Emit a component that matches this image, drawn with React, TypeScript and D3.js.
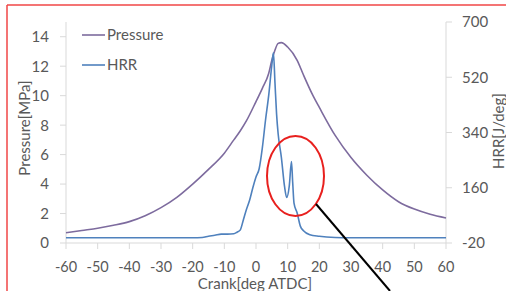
import React from "react";
import * as d3 from "d3";

const W = 506;
const H = 291;
const Margin = { top: 22, right: 60, bottom: 48, left: 66 };
const FONT = "Lato, 'Open Sans', sans-serif";
const TEXT = "#595959";
const AXIS = "#d9d9d9";

// crank angle [deg ATDC] and cylinder pressure [MPa]
const pressureCrank = [-60, -55, -50, -45, -40, -35, -30, -25, -20, -15, -10, -7, -5, -3, 0, 2, 4, 5, 6, 7, 8, 10, 13, 15, 18, 20, 25, 30, 35, 40, 45, 50, 55, 60];
const pressureValues = [0.7, 0.85, 1.0, 1.2, 1.45, 1.85, 2.4, 3.1, 4.0, 5.0, 6.1, 7.0, 7.6, 8.3, 9.6, 10.5, 11.5, 12.4, 13.1, 13.55, 13.6, 13.3, 12.4, 11.4, 10.0, 9.2, 7.3, 5.8, 4.6, 3.6, 2.8, 2.3, 1.95, 1.7];

// heat release rate [J/deg]
const hrrCrank = [-60, -20, -17, -15, -13, -11, -9, -7, -6, -5, -4, -3, -2, -1, 0, 1, 2, 3, 4, 5, 5.5, 6, 6.5, 7, 8, 9, 9.7, 10.5, 11.2, 11.6, 12, 13, 14, 15, 17, 20, 25, 30, 60];
const hrrValues = [-3, -3, -2, 2, 5, 9, 9, 10, 15, 22, 55, 90, 120, 160, 195, 222, 290, 380, 460, 560, 600, 500, 400, 335, 260, 165, 128, 165, 245, 175, 110, 78, 35, 20, 7, 2, -2, -3, -3];

const xTicks = [-60, -50, -40, -30, -20, -10, 0, 10, 20, 30, 40, 50, 60];
const leftTicks = [0, 2, 4, 6, 8, 10, 12, 14];
const rightTicks = [-20, 160, 340, 520, 700];

const App = () => {
  const x = d3.scaleLinear().domain([-60, 60]).range([Margin.left, W - Margin.right]);
  const yL = d3.scaleLinear().domain([0, 15]).range([H - Margin.bottom, Margin.top]);
  const yR = d3.scaleLinear().domain([-20, 700]).range([H - Margin.bottom, Margin.top]);

  const pLine = d3
    .line<number>()
    .x((d, i) => x(pressureCrank[i]))
    .y((d) => yL(d))
    .curve(d3.curveMonotoneX);
  const hLine = d3
    .line<number>()
    .x((d, i) => x(hrrCrank[i]))
    .y((d) => yR(d))
    .curve(d3.curveMonotoneX);

  const bottom = H - Margin.bottom;
  const right = W - Margin.right;

  return (
    <svg width={W} height={H} style={{ position: "absolute", left: 0, top: 0, background: "#fff" }} fontFamily={FONT}>
      <rect x={0} y={0} width={W} height={H} fill="#fff" />
      {/* axes */}
      <line x1={Margin.left} y1={Margin.top} x2={Margin.left} y2={bottom} stroke={AXIS} />
      <line x1={right} y1={Margin.top} x2={right} y2={bottom} stroke={AXIS} />
      <line x1={Margin.left} y1={bottom} x2={right} y2={bottom} stroke={AXIS} />
      {xTicks.map((t) => (
        <g key={t} transform={`translate(${x(t)}, 0)`}>
          <line y1={bottom} y2={bottom + 6} stroke={AXIS} />
          <text y={bottom + 29} textAnchor="middle" fontSize={14.5} fill={TEXT}>
            {t}
          </text>
        </g>
      ))}
      {leftTicks.map((t) => (
        <g key={t} transform={`translate(0, ${yL(t)})`}>
          <line x1={Margin.left - 6} x2={Margin.left} stroke={AXIS} />
          <text x={49} dy="0.36em" textAnchor="end" fontSize={15} fill={TEXT}>
            {t}
          </text>
        </g>
      ))}
      {rightTicks.map((t) => (
        <g key={t} transform={`translate(0, ${yR(t)})`}>
          <line x1={right} x2={right + 6} stroke={AXIS} />
          <text x={462} dy="0.36em" textAnchor="start" fontSize={15} fill={TEXT}>
            {t}
          </text>
        </g>
      ))}
      <text transform="translate(30, 128) rotate(-90)" textAnchor="middle" fontSize={15} fill={TEXT}>
        Pressure[MPa]
      </text>
      <text transform="translate(504, 131) rotate(-90)" textAnchor="middle" fontSize={15} fill={TEXT}>
        HRR[J/deg]
      </text>
      <text x={255} y={289} textAnchor="middle" fontSize={15} fill={TEXT}>
        Crank[deg ATDC]
      </text>

      {/* series */}
      <path d={pLine(pressureValues) || ""} fill="none" stroke="#7d6b9e" strokeWidth={1.6} />
      <path d={hLine(hrrValues) || ""} fill="none" stroke="#4f81bd" strokeWidth={1.6} />

      {/* legend */}
      <line x1={82} x2={105} y1={35} y2={35} stroke="#7d6b9e" strokeWidth={1.6} />
      <text x={107} y={35} dy="0.36em" fontSize={15} fill={TEXT}>
        Pressure
      </text>
      <line x1={82} x2={105} y1={65} y2={65} stroke="#4f81bd" strokeWidth={1.6} />
      <text x={107} y={65} dy="0.36em" fontSize={15} fill={TEXT}>
        HRR
      </text>

      {/* annotation */}
      <ellipse cx={295.5} cy={176} rx={28.5} ry={40} fill="none" stroke="#e8201e" strokeWidth={2} />
      <line x1={316} y1={204} x2={390} y2={291} stroke="#000" strokeWidth={2} />

      {/* border */}
      <line x1={7} y1={5} x2={W} y2={5} stroke="#f04646" strokeWidth={1.5} />
      <line x1={7} y1={5} x2={7} y2={H} stroke="#f04646" strokeWidth={1.5} />
    </svg>
  );
};

export default App;
